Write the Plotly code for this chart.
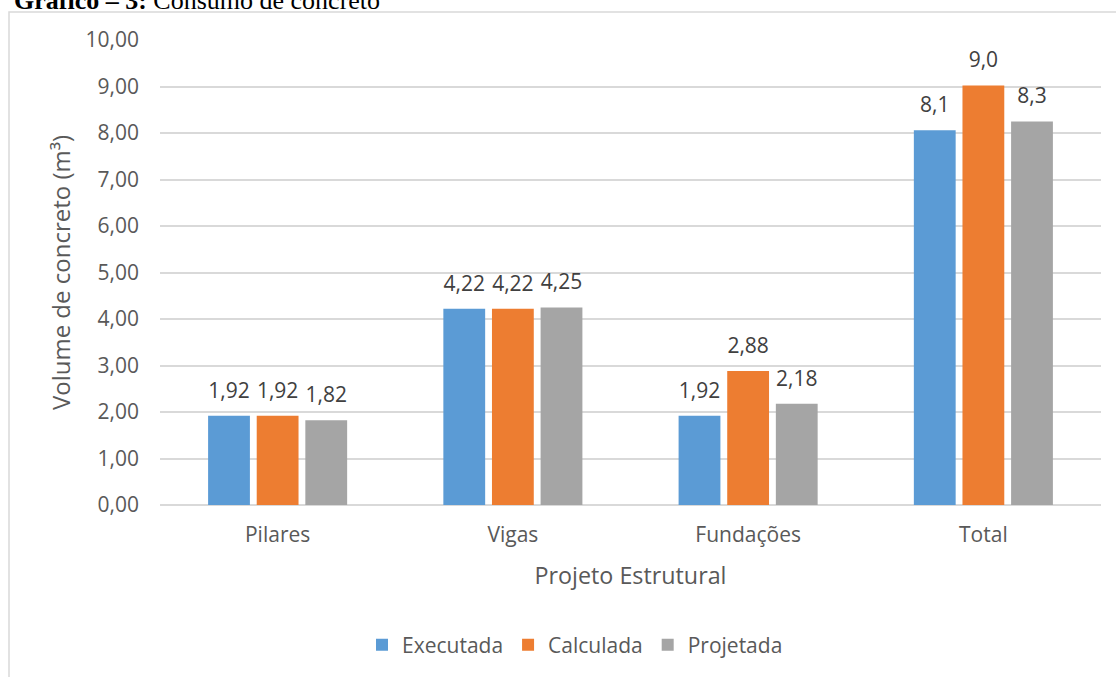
import plotly.graph_objects as go
from decimal import Decimal, ROUND_HALF_UP

# ---- data ----
categories = ["Pilares", "Vigas", "Fundações", "Total"]
executada = [1.92, 4.22, 1.92, 8.06]
calculada = [1.92, 4.22, 2.88, 9.02]
projetada = [1.82, 4.25, 2.18, 8.25]
label_decimals = [2, 2, 2, 1]
series_names = ["Executada", "Calculada", "Projetada"]
series_colors = ["#5B9BD5", "#ED7D31", "#A5A5A5"]
y_ticks = [0, 1, 2, 3, 4, 5, 6, 7, 8, 9, 10]

W, H = 1116, 677
ML, MR, MT, MB = 160, 15, 40, 172
PW, PH = W - ML - MR, H - MT - MB


def px2x(px):
    return (px - ML) / PW


def py2y(py):
    return (H - MB - py) / PH


def fmt(v, d):
    q = Decimal(1).scaleb(-d)
    s = str(Decimal(str(v)).quantize(q, rounding=ROUND_HALF_UP))
    return s.replace(".", ",")


FONT = "Open Sans"
GRAY_TXT = "#595959"
LABEL_TXT = "#404040"

fig = go.Figure()
all_series = [executada, calculada, projetada]
for name, vals, col in zip(series_names, all_series, series_colors):
    fig.add_trace(go.Bar(
        x=categories, y=vals, name=name, marker_color=col,
        marker_line_width=0, hoverinfo="skip",
    ))
for name, vals, col in zip(series_names, all_series, series_colors):
    fig.add_trace(go.Scatter(
        x=categories, y=vals, mode="markers+text",
        text=[fmt(v, d) for v, d in zip(vals, label_decimals)],
        textposition="top center",
        textfont=dict(family=FONT, size=21, color=LABEL_TXT),
        marker=dict(size=19, opacity=0, color=col),
        showlegend=False, hoverinfo="skip", cliponaxis=False,
    ))

fig.update_layout(
    width=W, height=H,
    margin=dict(l=ML, r=MR, t=MT, b=MB, pad=0),
    paper_bgcolor="white", plot_bgcolor="white",
    barmode="group", bargap=0.38, bargroupgap=0.14,
    scattermode="group", scattergap=0.38,
    separators=",.",
    font=dict(family=FONT, size=21, color=GRAY_TXT),
    showlegend=True,
    legend=dict(
        orientation="h", x=px2x(362), xanchor="left",
        y=py2y(645), yanchor="middle",
        font=dict(family=FONT, size=21, color=GRAY_TXT),
        bgcolor="rgba(0,0,0,0)", traceorder="normal",
    ),
    xaxis=dict(
        type="category", showgrid=False, showline=False, zeroline=False,
        ticks="", tickfont=dict(family=FONT, size=21, color=GRAY_TXT),
        ticklabelstandoff=15,
        title=dict(text="Projeto Estrutural", standoff=20,
                   font=dict(family=FONT, size=23.3, color=GRAY_TXT)),
    ),
    yaxis=dict(
        range=[0, 10], tickvals=y_ticks, tickformat=".2f",
        showgrid=True, gridcolor="#D9D9D9", gridwidth=1.5,
        zeroline=True, zerolinecolor="#D9D9D9", zerolinewidth=1.5,
        showline=False, ticks="",
        tickfont=dict(family=FONT, size=21, color=GRAY_TXT),
        ticklabelstandoff=20,
        title=dict(text="Volume de concreto (m³)", standoff=8,
                   font=dict(family=FONT, size=24, color=GRAY_TXT)),
    ),
    shapes=[dict(
        type="rect", xref="paper", yref="paper",
        x0=px2x(9), x1=px2x(1140), y0=py2y(12), y1=py2y(720),
        line=dict(color="#D9D9D9", width=1.5), layer="below",
    )],
    annotations=[dict(
        text="<b>Gráfico – 3:</b> Consumo de concreto",
        xref="paper", yref="paper", x=px2x(12), y=py2y(17),
        xanchor="left", yanchor="bottom", showarrow=False,
        font=dict(family="Liberation Serif", size=26, color="black"),
    )],
)

fig.write_html("out.html")
